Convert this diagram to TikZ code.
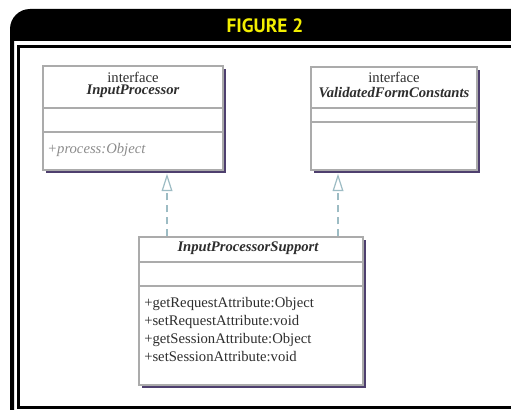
\documentclass[tikz,border=0pt]{standalone}
\usepackage{fontspec}
\setmainfont{Liberation Serif}
\newfontfamily\headfont{PT Sans}
\usetikzlibrary{arrows.meta,fit,shadows}

\definecolor{headyellow}{HTML}{F2EE00}
\definecolor{umlborder}{HTML}{ABABAB}
\definecolor{umlshadow}{HTML}{4E3F6E}
\definecolor{realizecol}{HTML}{9DBCC4}
\definecolor{optext}{HTML}{8C8C8C}
\definecolor{umltext}{HTML}{2E2E2E}

\begin{document}
\begin{tikzpicture}[x=0.75pt,y=-0.75pt,
  classbox/.style={draw=umlborder, line width=1.1pt, fill=white, inner sep=0pt,
    drop shadow={shadow xshift=2.2pt, shadow yshift=-2.2pt, fill=umlshadow, opacity=1}},
  sep/.style={draw=umlborder, line width=1.1pt},
  umlfont/.style={font=\fontsize{11}{12}\selectfont, text=umltext, inner sep=0pt},
  ifacelabel/.style={umlfont},
  classname/.style={umlfont, font=\fontsize{11}{12}\selectfont\bfseries\itshape},
  member/.style={umlfont, anchor=west},
  realize/.style={draw=realizecol, line width=0.9pt, dash pattern=on 5.5pt off 3.5pt,
    -{Triangle[open, length=13pt, width=8pt, line width=0.9pt]}}]

\useasboundingbox (0,0) rectangle (511,410);
\fill[white] (0,0) rectangle (511,410);

% page frame: black title band with rounded corner and double border
\begin{scope}
  \clip (0,0) rectangle (511,410);
  \fill[black] (10,420) -- (10,29) arc (180:270:20) -- (530,9) -- (530,41)
    -- (14,41) -- (14,420) -- cycle;
  \draw[black, line width=2.3pt] (18.5,46.5) rectangle (540,407.5);
\end{scope}
\node[text=headyellow, font=\headfont\bfseries\fontsize{14.5}{15}\selectfont, inner sep=0pt]
  (title) at (265,25.5) {FIGURE 2};

% interface InputProcessor
\node[classbox, fit={(43,66) (223,170)}] (b1) {};
\draw[sep] (b1.west |- 0,108) -- (b1.east |- 0,108);
\draw[sep] (b1.west |- 0,132) -- (b1.east |- 0,132);
\node[ifacelabel] (b1s) at (133,77) {interface};
\node[classname] (b1n) at (133,91.5) {InputProcessor};
\node[member, text=optext, font=\fontsize{11}{12}\selectfont\itshape] (b1m) at (47,150) {+process:Object};

% interface ValidatedFormConstants
\node[classbox, fit={(311,67) (477,170)}] (b2) {};
\draw[sep] (b2.west |- 0,108) -- (b2.east |- 0,108);
\draw[sep] (b2.west |- 0,122) -- (b2.east |- 0,122);
\node[ifacelabel] (b2s) at (394,77) {interface};
\node[classname] (b2n) at (394,92.5) {ValidatedFormConstants};

% InputProcessorSupport
\node[classbox, fit={(139,237) (363,385)}] (b3) {};
\draw[sep] (b3.west |- 0,262) -- (b3.east |- 0,262);
\draw[sep] (b3.west |- 0,286) -- (b3.east |- 0,286);
\node[classname] (b3n) at (248,248) {InputProcessorSupport};
\node[member] (m1) at (144,304) {+getRequestAttribute:Object};
\node[member] (m2) at (144,321.5) {+setRequestAttribute:void};
\node[member] (m3) at (144,339.5) {+getSessionAttribute:Object};
\node[member] (m4) at (144,357) {+setSessionAttribute:void};

% realization connectors
\coordinate (r1) at (167,0);
\coordinate (r2) at (338,0);
\draw[realize] (b3.north -| r1) -- ([yshift=-2.2pt]b1.south -| r1);
\draw[realize] (b3.north -| r2) -- ([yshift=-2.2pt]b2.south -| r2);

\end{tikzpicture}
\end{document}
